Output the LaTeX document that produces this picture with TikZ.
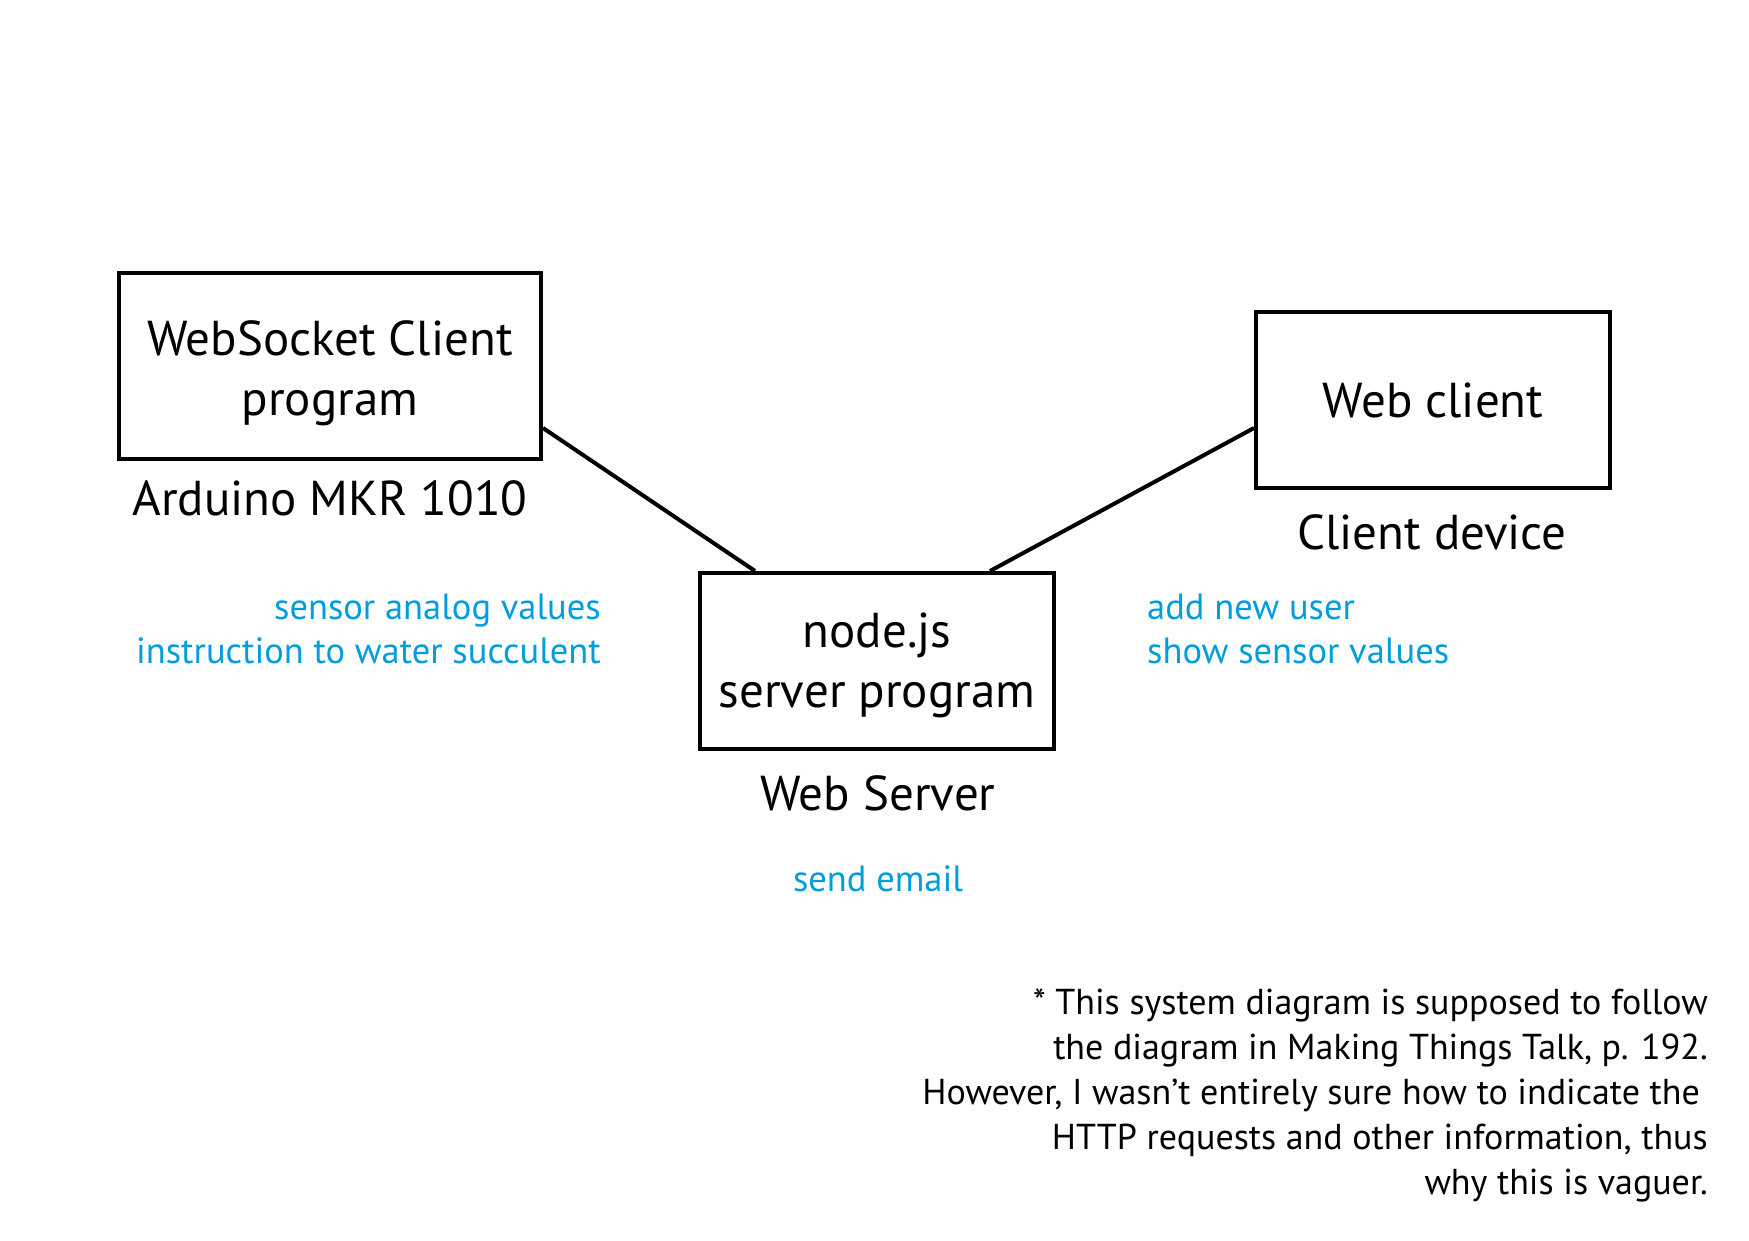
\documentclass[tikz,border=0pt]{standalone}
\usepackage{fontspec}
\setmainfont{PT Sans}
\definecolor{lblue}{RGB}{0,157,220}
\begin{document}
\begin{tikzpicture}[x=1pt,y=-1pt,
  box/.style={draw,line width=4pt,inner sep=0pt},
  btext/.style={inner sep=0pt,align=center,font=\fontsize{49}{60}\selectfont},
  conn/.style={line width=4pt},
  lab/.style={inner sep=0pt,anchor=base,font=\fontsize{49}{60}\selectfont},
  note/.style={inner sep=0pt,text=lblue,font=\fontsize{36.5}{44}\selectfont},
  foot/.style={inner sep=0pt,anchor=base east,font=\fontsize{36}{45}\selectfont}]
\useasboundingbox (0,0) rectangle (1749,1241);
\node[box,minimum width=422pt,minimum height=186pt] (b1) at (330,366) {};
\node[box,minimum width=354pt,minimum height=176pt] (b2) at (1433,400) {};
\node[box,minimum width=354pt,minimum height=176pt] (b3) at (877,661) {};
\node[btext] (t1) at ([yshift=-7pt]b1.center) {WebSocket Client\\program};
\node[btext] (t2) at (b2.center) {Web client};
\node[btext] (t3) at ([yshift=-4pt]b3.center) {node.js\\server program};
\draw[conn] ([yshift=-62pt]b1.east) -- ([xshift=57pt]b3.north west);
\draw[conn] ([yshift=-28pt]b2.west) -- ([xshift=-66pt]b3.north east);
\node[lab] (l1) at (330,515) {Arduino MKR 1010};
\node[lab] (l2) at (1432,549) {Client device};
\node[lab] (l3) at (878,810) {Web Server};
\node[note,anchor=base east] (n1) at (601,619) {sensor analog values};
\node[note,anchor=base east] (n2) at (601,663) {instruction to water succulent};
\node[note,anchor=base west] (n3) at (1147,619) {add new user};
\node[note,anchor=base west] (n4) at (1147,663) {show sensor values};
\node[note,anchor=base] (n5) at (878,891) {send email};
\node[foot] (f1) at (1708,1014) {* This system diagram is supposed to follow};
\node[foot] (f2) at (1708,1059) {the diagram in Making Things Talk, p. 192.};
\node[foot] (f3) at (1708,1104) {However, I wasn’t entirely sure how to indicate the\rule{8pt}{0pt}};
\node[foot] (f4) at (1708,1149) {HTTP requests and other information, thus};
\node[foot] (f5) at (1708,1194) {why this is vaguer.};
\end{tikzpicture}
\end{document}
